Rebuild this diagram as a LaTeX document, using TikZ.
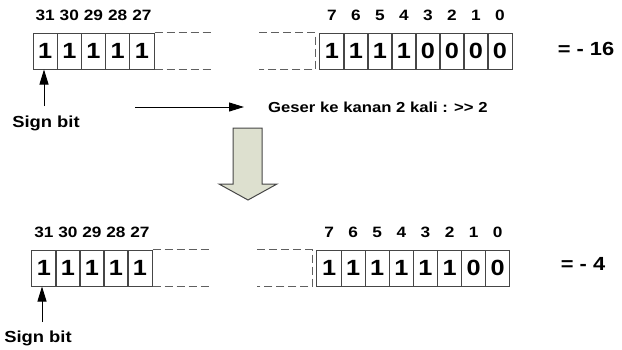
\documentclass[tikz,border=0pt]{standalone}
\usepackage{fontspec}
\setmainfont{Liberation Sans}[FakeStretch=1.15]
\usetikzlibrary{arrows.meta,positioning}
\definecolor{lineColor}{RGB}{70,70,70}
\definecolor{dashColor}{RGB}{95,95,95}
\definecolor{blockColor}{RGB}{221,224,207}
\tikzset{cell/.style={draw=lineColor, line width=1pt, minimum width=24.2pt, minimum height=36pt, inner sep=0pt, font=\fontsize{22}{22}\selectfont\bfseries}}
\tikzset{bitno/.style={inner sep=0pt, font=\fontsize{15}{15}\selectfont\bfseries}}
\tikzset{caption/.style={inner sep=0pt, font=\fontsize{16}{16}\selectfont\bfseries}}
\tikzset{result/.style={inner sep=0pt, font=\fontsize{19}{19}\selectfont\bfseries}}
\tikzset{gap/.style={draw=dashColor, line width=1pt, dash pattern=on 8pt off 4pt}}
\tikzstyle{arrow} = [draw=black, line width=1pt, -{Triangle[length=15pt, width=9pt]}]

\begin{document}
\begin{tikzpicture}[x=1pt, y=-1pt, node distance=12pt]
	\useasboundingbox (0,0) rectangle (622,349);

	% Upper register (before the shift)
	\foreach \b [count=\i] in {1,1,1,1,1}
		\node (hiA\i) [cell] at ({33+24.2*(\i-0.5)}, 51) {\b};
	\foreach \b [count=\i] in {1,1,1,1,0,0,0,0}
		\node (loA\i) [cell] at ({320+24*(\i-0.5)}, 51) {\b};
	\foreach \n [count=\i] in {31,30,29,28,27}
		\node (numHiA\i) [bitno, above=of hiA\i] {\n};
	\foreach \n [count=\i] in {7,6,5,4,3,2,1,0}
		\node (numLoA\i) [bitno, above=of loA\i] {\n};

	\draw [gap] (hiA5.north east) -- ++(58,0);
	\draw [gap] (hiA5.south east) -- ++(58,0);
	\draw [gap] ([xshift=-60pt]loA1.north west) -- ([xshift=-4pt]loA1.north west)
		-- ([xshift=-4pt]loA1.south west) -- ([xshift=-60pt]loA1.south west);

	\node (valA) [result] at (586,49) {= - 16};

	\node (signA) [caption] at (46,123) {Sign bit};
	\coordinate (tailA) at (44,106);
	\draw [arrow] (tailA) -- (tailA |- hiA1.south);

	% Shift instruction
	\coordinate (shiftL) at (135,107);
	\coordinate (shiftR) at (244,107);
	\draw [arrow] (shiftL) -- (shiftR);
	\node (shiftText) [caption, font=\fontsize{14.5}{14.5}\selectfont\bfseries, right=24pt of shiftR] {Geser ke kanan 2 kali : >{}> 2};

	% Block arrow
	\draw [draw=lineColor, fill=blockColor, line width=1pt]
		(233,128) -- (262,128) -- (262,184) -- (277,184) -- (248,200) -- (219,184) -- (233,184) -- cycle;

	% Lower register (after the shift)
	\foreach \b [count=\i] in {1,1,1,1,1}
		\node (hiB\i) [cell] at ({32+24*(\i-0.5)}, 268) {\b};
	\foreach \b [count=\i] in {1,1,1,1,1,1,0,0}
		\node (loB\i) [cell] at ({317+24.1*(\i-0.5)}, 268) {\b};
	\foreach \n [count=\i] in {31,30,29,28,27}
		\node (numHiB\i) [bitno, above=of hiB\i] {\n};
	\foreach \n [count=\i] in {7,6,5,4,3,2,1,0}
		\node (numLoB\i) [bitno, above=of loB\i] {\n};

	\draw [gap] (hiB5.north east) -- ++(58,0);
	\draw [gap] (hiB5.south east) -- ++(58,0);
	\draw [gap] ([xshift=-59pt]loB1.north west) -- ([xshift=-4pt]loB1.north west)
		-- ([xshift=-4pt]loB1.south west) -- ([xshift=-59pt]loB1.south west);

	\node (valB) [result] at (583,264) {= - 4};

	\node (signB) [caption] at (38,338) {Sign bit};
	\coordinate (tailB) at (42,322);
	\draw [arrow] (tailB) -- (tailB |- hiB1.south);
\end{tikzpicture}
\end{document}
